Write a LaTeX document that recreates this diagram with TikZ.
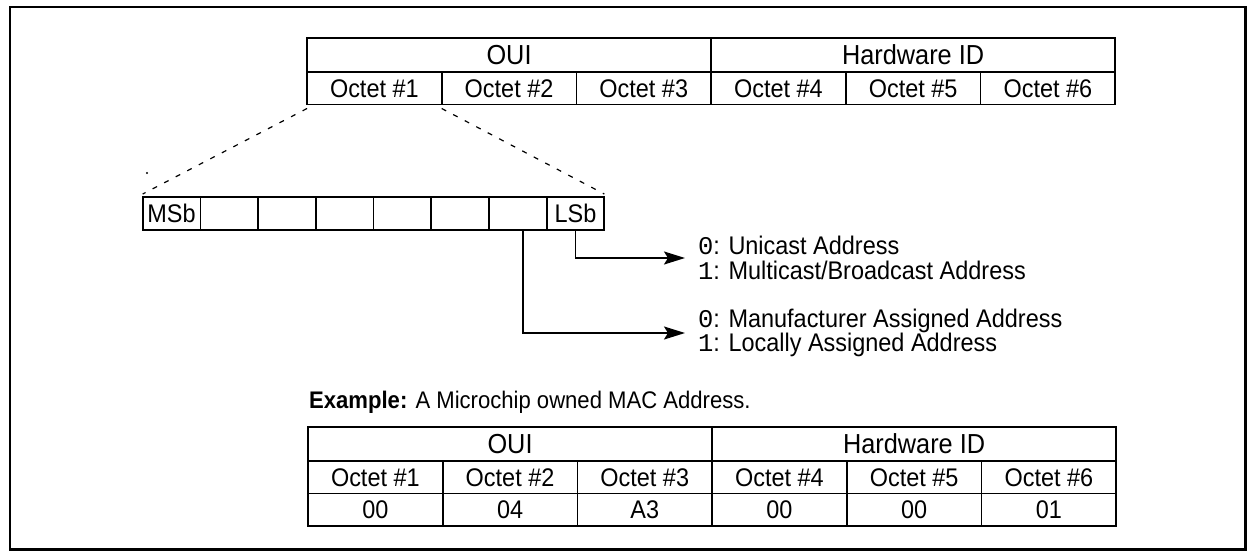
\documentclass[tikz,border=0pt]{standalone}
\usepackage{fontspec}
\setmainfont[FakeStretch=0.92]{Liberation Sans}
\setmonofont{Liberation Mono}
\usetikzlibrary{arrows.meta, positioning}

\newcommand{\cellfont}{\fontsize{25.5}{28}\selectfont}
\newcommand{\headfont}{\fontsize{27.5}{30}\selectfont}
\newcommand{\notefont}{\fontsize{25.5}{24.5}\selectfont}
\newcommand{\bitval}[1]{\texttt{#1}}

\begin{document}
\begin{tikzpicture}[
        x=1pt, y=-1pt,
        cell/.style={draw, line width=1.8pt, outer sep=0pt, inner sep=0pt,
            minimum width=134.7pt, minimum height=32.5pt, font=\cellfont},
        head/.style={cell, minimum width=404.1pt, minimum height=34pt, font=\headfont},
        bitcell/.style={cell, minimum width=57.7pt, minimum height=33pt},
        zoomline/.style={line width=1.2pt, dash pattern=on 5pt off 8pt},
        rel/.style={-{Stealth[length=21pt, width=13pt, inset=4pt]}, line width=1.8pt},
        note/.style={anchor=west, align=left, inner sep=0pt, outer sep=0pt, font=\notefont}
    ]
    \useasboundingbox (0,0) rectangle (1248,552);
    \clip (0,0) rectangle (1248,552);
    % frame round the figure
    \draw[line width=2.5pt] (10,7) rectangle (1245.5,549.5);

    % address layout
    \node[head, anchor=north west] (oui) at (307,38) {OUI};
    \node[head, right=0pt of oui] (hwid) {Hardware ID};
    \node[cell, anchor=north west] (o1) at (oui.south west) {Octet \#1};
    \foreach \i [remember=\i as \prev (initially 1)] in {2,...,6}
        \node[cell, right=0pt of o\prev] (o\i) {Octet \#\i};

    % bits of the first octet
    \node[bitcell, anchor=north west] (bit1) at (142.7,197) {MSb};
    \foreach \i/\txt [remember=\i as \prev (initially 1)] in {2/{},3/{},4/{},5/{},6/{},7/{},8/LSb}
        \node[bitcell, right=0pt of bit\prev] (bit\i) {\txt};
    \draw[zoomline] ([yshift=-4pt]o1.south west) -- ([yshift=3pt]bit1.north west);
    \draw[zoomline] ([yshift=-4pt]o1.south east) -- ([yshift=3pt]bit8.north east);
    \fill (147,173) circle (1.2pt);

    \node[note] (cast) at (698,258) {\bitval{0}: Unicast Address\\\bitval{1}: Multicast/Broadcast Address};
    \node[note] (assign) at (698,333) {\bitval{0}: Manufacturer Assigned Address\\\bitval{1}: Locally Assigned Address};
    \draw[rel] (bit8.south) |- ([xshift=-13pt]cast.west);
    \draw[rel] ([xshift=5pt]bit7.south) |- ([xshift=-13pt]assign.west);

    % example address
    \node[anchor=base west, inner sep=0pt, font=\fontsize{24}{28}\selectfont] (exlbl) at (309,408)
        {\textbf{Example:} A Microchip owned MAC Address.};
    \node[head, anchor=north west] (exoui) at (308,427) {OUI};
    \node[head, right=0pt of exoui] (exhwid) {Hardware ID};
    \node[cell, anchor=north west] (ex1) at (exoui.south west) {Octet \#1};
    \foreach \i [remember=\i as \prev (initially 1)] in {2,...,6}
        \node[cell, right=0pt of ex\prev] (ex\i) {Octet \#\i};
    \foreach \v [count=\i] in {00,04,A3,00,00,01}
        \node[cell, below=0pt of ex\i] (val\i) {\v};
\end{tikzpicture}
\end{document}
